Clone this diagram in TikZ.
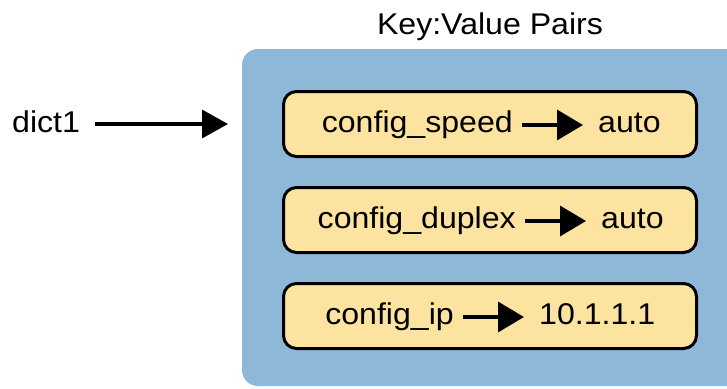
\documentclass[tikz,border=0pt]{standalone}
\usepackage{fontspec}
\setmainfont{Liberation Sans}
\usetikzlibrary{arrows.meta,positioning}
\definecolor{kvblue}{RGB}{143,184,216}
\definecolor{kvyellow}{RGB}{253,227,160}
\newcommand{\wide}[1]{\scalebox{1.07}[1]{#1}}
\tikzset{
  txt/.style={inner sep=0pt, font=\fontsize{30}{34}\selectfont, text height=21.6pt, text depth=6pt},
  pairbox/.style={draw=black, line width=3pt, fill=kvyellow, rounded corners=13pt,
    minimum width=413pt, minimum height=65pt, inner sep=0pt},
  pairarrow/.style={line width=3.5pt, -{Triangle[length=26pt,width=30pt]}},
  dictarrow/.style={line width=3.5pt, -{Triangle[length=26pt,width=28pt]}}
}
\begin{document}
\begin{tikzpicture}[x=1pt,y=-1pt]
\clip (0,0) rectangle (727,388);
\fill[white] (0,0) rectangle (727,388);
% blue container
\fill[kvblue, rounded corners=16pt] (242,49) rectangle (780,386);
\node[txt, anchor=base] (title) at (490,34) {\wide{Key:Value Pairs}};
% dict1
\node[txt, anchor=west] (dict) at (12,125) {\wide{dict1}};
\coordinate (dtip) at (228,124);
\draw[dictarrow, shorten <=15pt] (dict.east |- dtip) -- (dtip);
% pair boxes
\node[pairbox] (b1) at (490,124) {};
\node[pairbox] (b2) at (490,220) {};
\node[pairbox] (b3) at (490,316) {};
% row 1
\node[txt, anchor=east] (k1) at (513,125) {\wide{config\_speed}};
\node[txt, anchor=west] (v1) at (598,125) {\wide{auto}};
\draw[pairarrow, shorten <=9pt, shorten >=15pt] (k1.east) -- (v1.west);
% row 2
\node[txt, anchor=east] (k2) at (516,221) {\wide{config\_duplex}};
\node[txt, anchor=west] (v2) at (601,221) {\wide{auto}};
\draw[pairarrow, shorten <=9pt, shorten >=15pt] (k2.east) -- (v2.west);
% row 3
\node[txt, anchor=east] (k3) at (454,317) {\wide{config\_ip}};
\node[txt, anchor=west] (v3) at (539,317) {\wide{10.1.1.1}};
\draw[pairarrow, shorten <=9pt, shorten >=15pt] (k3.east) -- (v3.west);
\end{tikzpicture}
\end{document}
